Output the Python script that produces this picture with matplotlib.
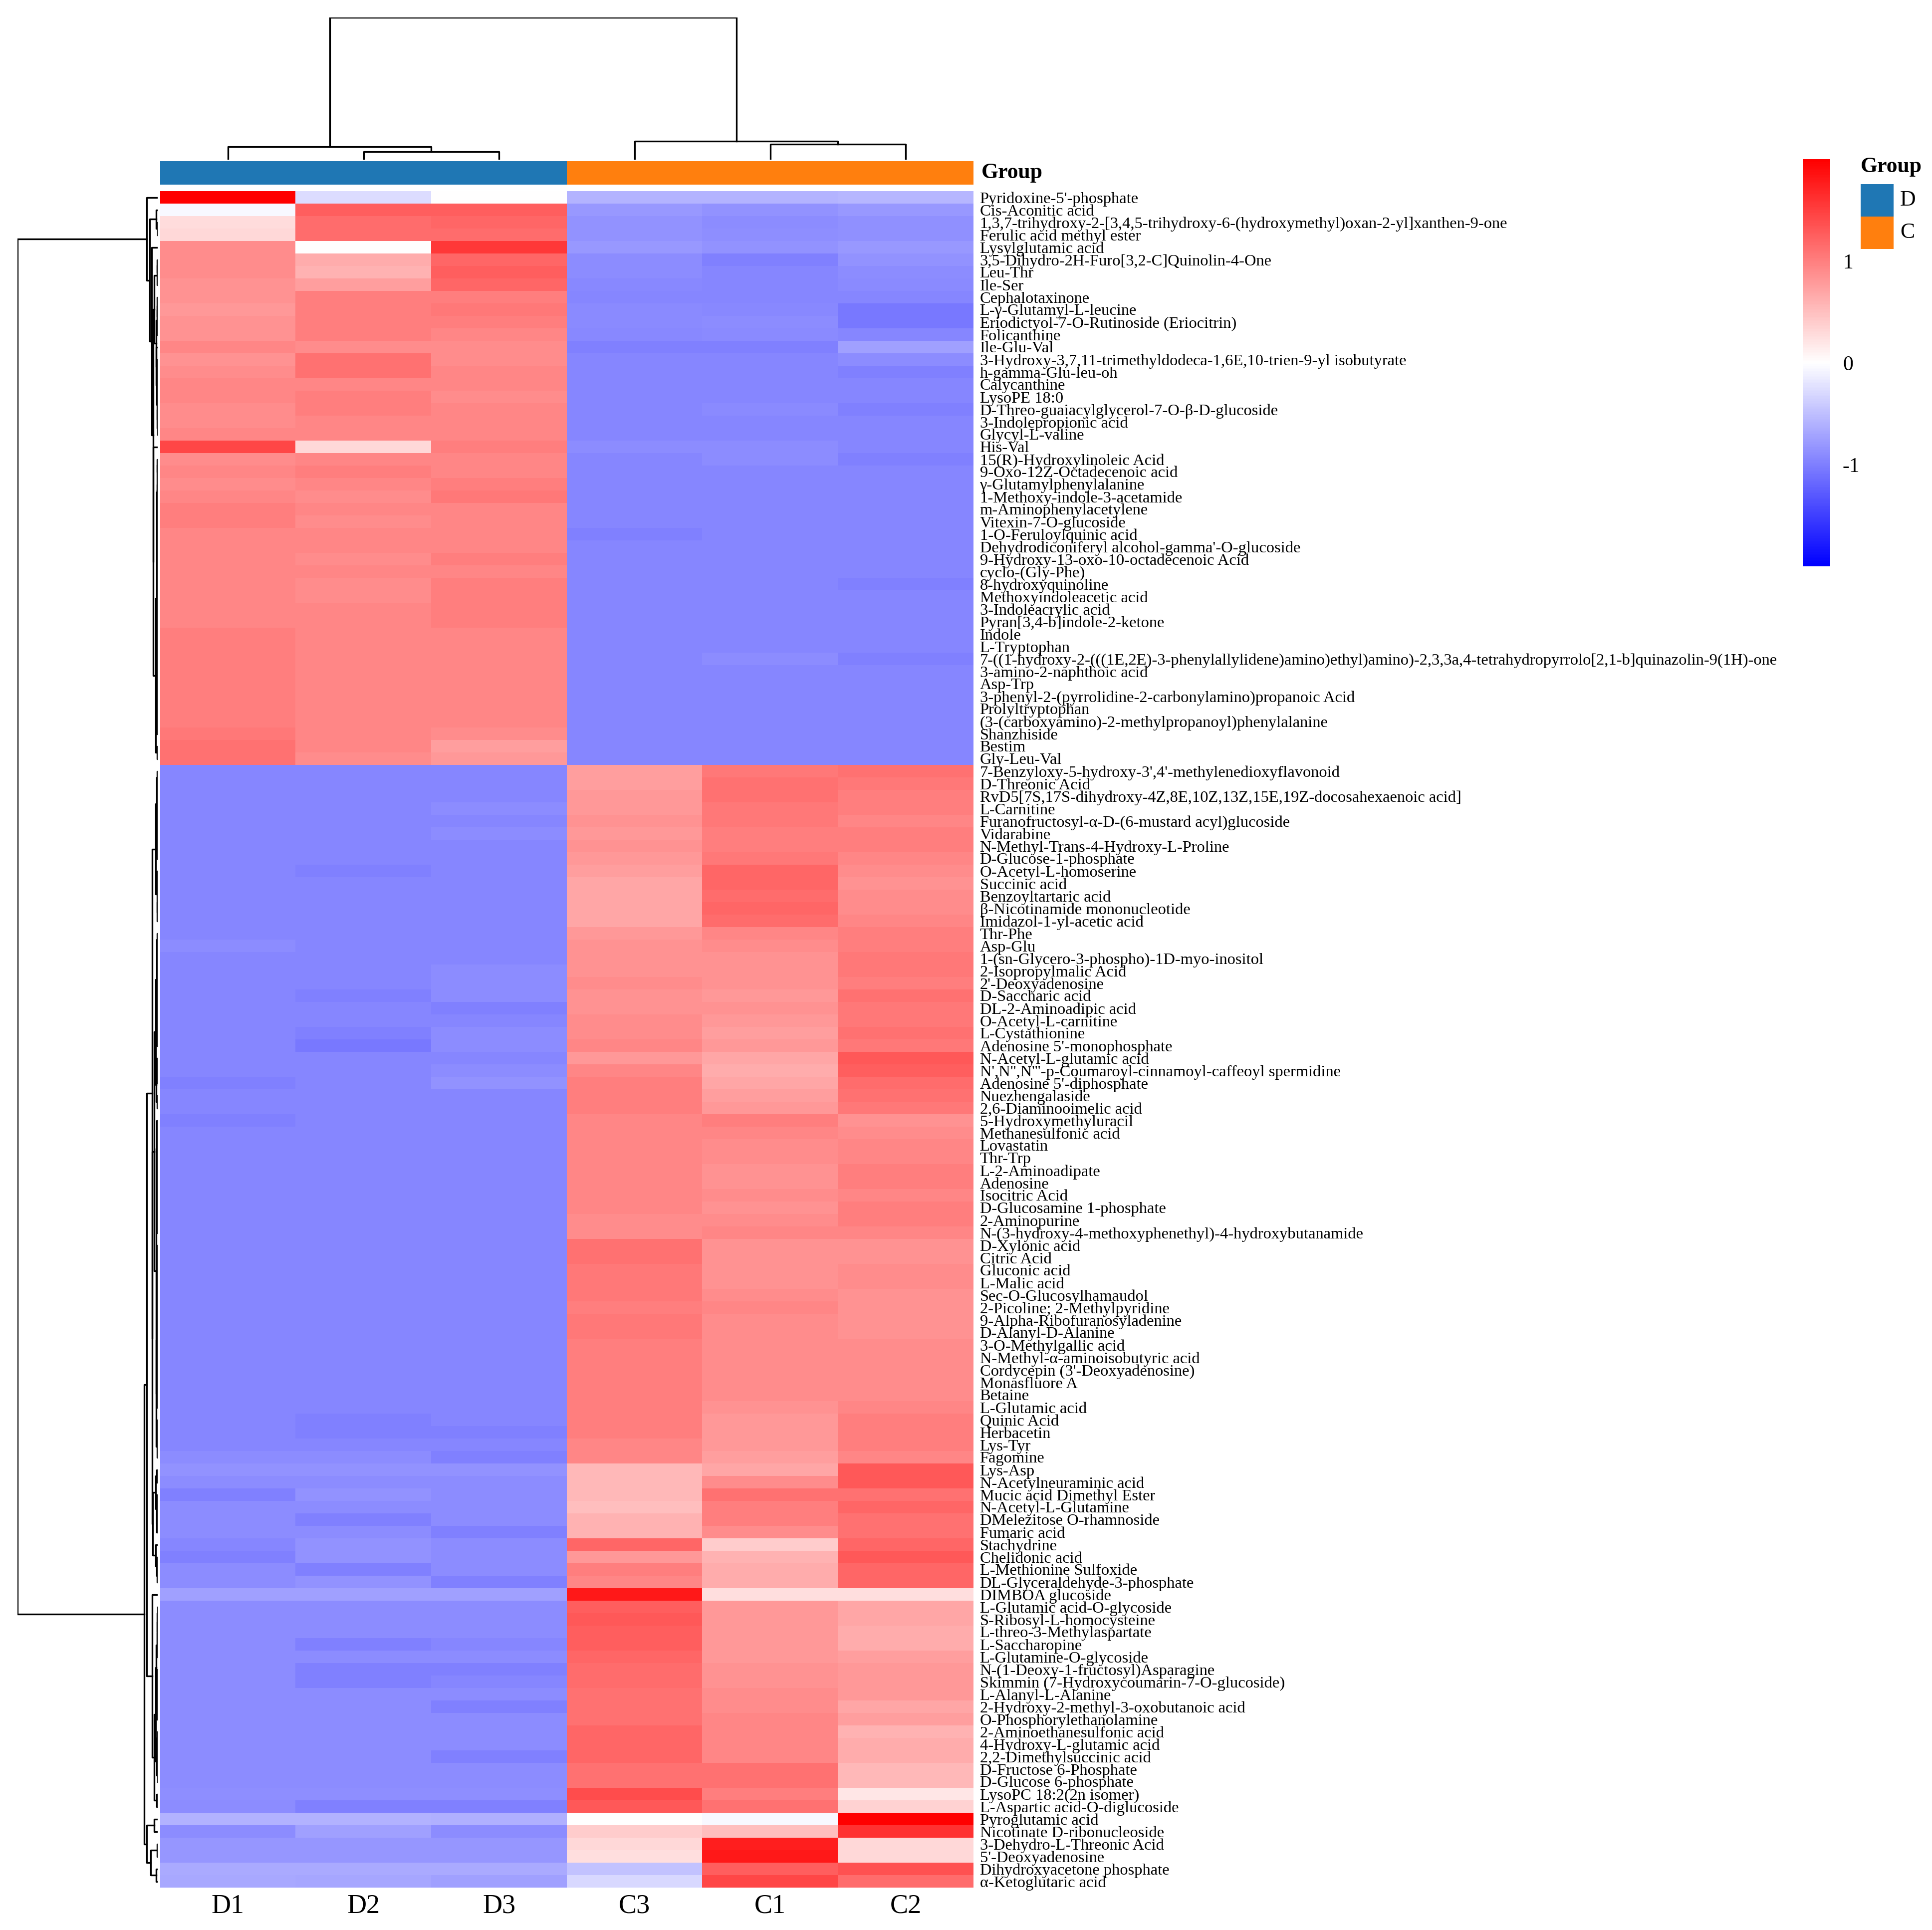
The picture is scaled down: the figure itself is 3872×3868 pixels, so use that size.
import numpy as np
import matplotlib
matplotlib.use("Agg")
import matplotlib.pyplot as plt
from matplotlib.colors import LinearSegmentedColormap
from matplotlib.patches import Rectangle

plt.rcParams['font.family'] = ['Liberation Serif', 'DejaVu Serif']

# ---- data -------------------------------------------------------------
samples = ["D1", "D2", "D3", "C3", "C1", "C2"]
groups = ["D", "D", "D", "C", "C", "C"]
group_colors = {"D": "#1F77B4", "C": "#FF7F0E"}

metabolites = [
    "Pyridoxine-5'-phosphate", "Cis-Aconitic acid",
    "1,3,7-trihydroxy-2-[3,4,5-trihydroxy-6-(hydroxymethyl)oxan-2-yl]xanthen-9-one",
    "Ferulic acid methyl ester", "Lysylglutamic acid",
    "3,5-Dihydro-2H-Furo[3,2-C]Quinolin-4-One", "Leu-Thr", "Ile-Ser",
    "Cephalotaxinone", "L-γ-Glutamyl-L-leucine",
    "Eriodictyol-7-O-Rutinoside (Eriocitrin)", "Folicanthine", "Ile-Glu-Val",
    "3-Hydroxy-3,7,11-trimethyldodeca-1,6E,10-trien-9-yl isobutyrate",
    "h-gamma-Glu-leu-oh", "Calycanthine", "LysoPE 18:0",
    "D-Threo-guaiacylglycerol-7-O-β-D-glucoside", "3-Indolepropionic acid",
    "Glycyl-L-valine", "His-Val", "15(R)-Hydroxylinoleic Acid",
    "9-Oxo-12Z-Octadecenoic acid", "γ-Glutamylphenylalanine",
    "1-Methoxy-indole-3-acetamide", "m-Aminophenylacetylene",
    "Vitexin-7-O-glucoside", "1-O-Feruloylquinic acid",
    "Dehydrodiconiferyl alcohol-gamma'-O-glucoside",
    "9-Hydroxy-13-oxo-10-octadecenoic Acid", "cyclo-(Gly-Phe)",
    "8-hydroxyquinoline", "Methoxyindoleacetic acid", "3-Indoleacrylic acid",
    "Pyran[3,4-b]indole-2-ketone", "Indole", "L-Tryptophan",
    "7-((1-hydroxy-2-(((1E,2E)-3-phenylallylidene)amino)ethyl)amino)-2,3,3a,4-tetrahydropyrrolo[2,1-b]quinazolin-9(1H)-one",
    "3-amino-2-naphthoic acid", "Asp-Trp",
    "3-phenyl-2-(pyrrolidine-2-carbonylamino)propanoic Acid", "Prolyltryptophan",
    "(3-(carboxyamino)-2-methylpropanoyl)phenylalanine", "Shanzhiside", "Bestim",
    "Gly-Leu-Val", "7-Benzyloxy-5-hydroxy-3',4'-methylenedioxyflavonoid",
    "D-Threonic Acid",
    "RvD5[7S,17S-dihydroxy-4Z,8E,10Z,13Z,15E,19Z-docosahexaenoic acid]",
    "L-Carnitine", "Furanofructosyl-α-D-(6-mustard acyl)glucoside", "Vidarabine",
    "N-Methyl-Trans-4-Hydroxy-L-Proline", "D-Glucose-1-phosphate",
    "O-Acetyl-L-homoserine", "Succinic acid", "Benzoyltartaric acid",
    "β-Nicotinamide mononucleotide", "Imidazol-1-yl-acetic acid", "Thr-Phe",
    "Asp-Glu", "1-(sn-Glycero-3-phospho)-1D-myo-inositol", "2-Isopropylmalic Acid",
    "2'-Deoxyadenosine", "D-Saccharic acid", "DL-2-Aminoadipic acid",
    "O-Acetyl-L-carnitine", "L-Cystathionine", "Adenosine 5'-monophosphate",
    "N-Acetyl-L-glutamic acid",
    "N',N'',N'''-p-Coumaroyl-cinnamoyl-caffeoyl spermidine",
    "Adenosine 5'-diphosphate", "Nuezhengalaside", "2,6-Diaminooimelic acid",
    "5-Hydroxymethyluracil", "Methanesulfonic acid", "Lovastatin", "Thr-Trp",
    "L-2-Aminoadipate", "Adenosine", "Isocitric Acid", "D-Glucosamine 1-phosphate",
    "2-Aminopurine", "N-(3-hydroxy-4-methoxyphenethyl)-4-hydroxybutanamide",
    "D-Xylonic acid", "Citric Acid", "Gluconic acid", "L-Malic acid",
    "Sec-O-Glucosylhamaudol", "2-Picoline; 2-Methylpyridine",
    "9-Alpha-Ribofuranosyladenine", "D-Alanyl-D-Alanine", "3-O-Methylgallic acid",
    "N-Methyl-α-aminoisobutyric acid", "Cordycepin (3'-Deoxyadenosine)",
    "Monasfluore A", "Betaine", "L-Glutamic acid", "Quinic Acid", "Herbacetin",
    "Lys-Tyr", "Fagomine", "Lys-Asp", "N-Acetylneuraminic acid",
    "Mucic acid Dimethyl Ester", "N-Acetyl-L-Glutamine", "DMelezitose O-rhamnoside",
    "Fumaric acid", "Stachydrine", "Chelidonic acid", "L-Methionine Sulfoxide",
    "DL-Glyceraldehyde-3-phosphate", "DIMBOA glucoside",
    "L-Glutamic acid-O-glycoside", "S-Ribosyl-L-homocysteine",
    "L-threo-3-Methylaspartate", "L-Saccharopine", "L-Glutamine-O-glycoside",
    "N-(1-Deoxy-1-fructosyl)Asparagine", "Skimmin (7-Hydroxycoumarin-7-O-glucoside)",
    "L-Alanyl-L-Alanine", "2-Hydroxy-2-methyl-3-oxobutanoic acid",
    "O-Phosphorylethanolamine", "2-Aminoethanesulfonic acid",
    "4-Hydroxy-L-glutamic acid", "2,2-Dimethylsuccinic acid",
    "D-Fructose 6-Phosphate", "D-Glucose 6-phosphate", "LysoPC 18:2(2n isomer)",
    "L-Aspartic acid-O-diglucoside", "Pyroglutamic acid",
    "Nicotinate D-ribonucleoside", "3-Dehydro-L-Threonic Acid",
    "5'-Deoxyadenosine", "Dihydroxyacetone phosphate", "α-Ketoglutaric acid",
]

# row z-scores, one list per sample column (same order as metabolites)
d1 = [2.0, -0.05, 0.27, 0.3, 0.9, 0.9, 0.9, 0.85, 0.85, 0.8,
      0.85, 0.85, 0.95, 0.85, 0.9, 0.95, 0.95, 0.9, 0.9, 0.95,
      1.45, 0.9, 0.95, 0.9, 0.95, 1.0, 1.0, 0.95, 0.95, 0.95,
      0.95, 0.95, 0.95, 0.95, 0.95, 1.0, 1.0, 1.0, 1.0, 1.0,
      1.0, 1.0, 1.0, 1.05, 1.1, 1.1, -0.95, -0.95, -0.95, -0.95,
      -0.95, -0.95, -0.95, -0.95, -0.95, -0.95, -0.95, -0.95, -0.95, -0.95,
      -0.9, -0.95, -0.95, -0.95, -0.95, -0.95, -0.95, -0.95, -0.95, -0.95,
      -0.95, -1.0, -0.95, -0.95, -1.0, -0.95, -0.95, -0.95, -0.95, -0.95,
      -0.95, -0.95, -0.95, -0.95, -0.95, -0.95, -0.95, -0.95, -0.95, -0.95,
      -0.95, -0.95, -0.95, -0.95, -0.95, -0.95, -0.95, -0.95, -0.95, -0.95,
      -0.95, -0.9, -0.85, -0.9, -1.0, -0.9, -0.9, -0.9, -0.95, -1.0,
      -0.9, -0.9, -0.75, -0.9, -0.9, -0.9, -0.9, -0.9, -0.9, -0.9,
      -0.9, -0.9, -0.9, -0.9, -0.9, -0.9, -0.9, -0.9, -0.88, -0.9,
      -0.6, -0.9, -0.82, -0.82, -0.67, -0.68]
d2 = [-0.27, 1.25, 1.15, 1.15, 0.0, 0.65, 0.6, 0.75, 1.0, 1.0,
      1.0, 1.0, 0.9, 1.1, 1.1, 0.95, 1.0, 1.0, 0.95, 0.95,
      0.3, 0.95, 1.0, 0.95, 0.9, 0.95, 0.9, 0.95, 0.95, 0.9,
      0.95, 0.9, 0.9, 0.95, 0.95, 0.95, 0.95, 0.95, 0.95, 0.95,
      0.95, 0.95, 0.95, 0.95, 0.95, 0.9, -0.95, -0.95, -0.95, -0.95,
      -0.95, -0.95, -0.95, -0.95, -1.0, -0.95, -0.95, -0.95, -0.95, -0.95,
      -0.95, -0.95, -0.95, -0.95, -1.0, -0.95, -0.95, -1.0, -1.05, -0.95,
      -0.95, -0.95, -0.95, -0.95, -0.95, -0.95, -0.95, -0.95, -0.95, -0.95,
      -0.95, -0.95, -0.95, -0.95, -0.95, -0.95, -0.95, -0.95, -0.95, -0.95,
      -0.95, -0.95, -0.95, -0.95, -0.95, -0.95, -0.95, -0.95, -1.0, -1.0,
      -0.95, -0.9, -0.85, -0.9, -0.85, -0.9, -1.0, -0.9, -0.85, -0.85,
      -1.0, -0.85, -0.75, -0.9, -0.9, -0.9, -1.0, -0.9, -1.0, -1.0,
      -0.9, -0.9, -0.9, -0.9, -0.9, -0.9, -0.9, -0.9, -0.88, -1.0,
      -0.6, -0.75, -0.82, -0.82, -0.67, -0.7]
d3 = [0.0, 1.25, 1.2, 1.15, 1.55, 1.2, 1.25, 1.2, 1.0, 1.05,
      1.0, 0.95, 0.9, 0.9, 0.95, 0.95, 0.9, 0.95, 0.95, 0.95,
      1.0, 0.95, 0.95, 1.0, 1.05, 0.95, 0.95, 0.95, 0.95, 1.0,
      0.95, 1.0, 1.0, 1.0, 1.0, 0.95, 0.95, 0.95, 0.95, 0.95,
      0.95, 0.95, 0.95, 0.9, 0.75, 0.8, -0.95, -0.95, -0.95, -0.9,
      -0.95, -0.9, -0.95, -0.95, -0.95, -0.95, -0.95, -0.95, -0.95, -0.95,
      -0.95, -0.95, -0.9, -0.9, -0.9, -1.0, -0.95, -0.9, -0.9, -0.95,
      -0.9, -0.85, -0.95, -0.95, -0.95, -0.95, -0.95, -0.95, -0.95, -0.95,
      -0.95, -0.95, -0.95, -0.95, -0.95, -0.95, -0.95, -0.95, -0.95, -0.95,
      -0.95, -0.95, -0.95, -0.95, -0.95, -0.95, -0.95, -0.95, -0.95, -1.0,
      -0.95, -1.0, -0.85, -0.9, -0.9, -0.9, -0.9, -1.0, -0.9, -0.9,
      -0.9, -1.0, -0.75, -0.9, -0.9, -0.9, -0.95, -0.9, -1.0, -0.95,
      -0.9, -1.0, -0.9, -0.9, -0.9, -1.0, -0.9, -0.9, -0.88, -1.0,
      -0.62, -0.9, -0.82, -0.82, -0.67, -0.75]
c3 = [-0.58, -0.8, -0.85, -0.85, -0.8, -0.9, -0.9, -0.93, -0.95, -0.92,
      -0.92, -0.93, -1.0, -0.95, -0.95, -0.95, -0.95, -0.95, -0.95, -0.95,
      -0.9, -0.95, -0.95, -0.95, -0.95, -0.95, -0.95, -1.0, -0.95, -0.95,
      -0.95, -0.95, -0.95, -0.95, -0.95, -0.95, -0.95, -0.95, -0.95, -0.95,
      -0.95, -0.95, -0.95, -0.95, -0.95, -0.95, 0.75, 0.75, 0.8, 0.8,
      0.85, 0.8, 0.85, 0.8, 0.75, 0.7, 0.7, 0.7, 0.7, 0.8,
      0.85, 0.85, 0.85, 0.9, 0.85, 0.85, 0.9, 0.9, 0.95, 0.8,
      0.95, 1.0, 1.0, 1.0, 0.95, 0.95, 0.95, 0.95, 0.95, 0.95,
      0.95, 0.95, 0.9, 0.9, 1.1, 1.1, 1.05, 1.05, 1.05, 1.0,
      1.05, 1.05, 1.0, 1.0, 1.0, 1.0, 1.0, 1.0, 1.0, 1.0,
      0.95, 0.95, 0.55, 0.55, 0.55, 0.5, 0.6, 0.6, 1.2, 0.8,
      1.0, 0.95, 1.8, 1.25, 1.3, 1.25, 1.25, 1.2, 1.15, 1.15,
      1.1, 1.1, 1.1, 1.2, 1.2, 1.2, 1.1, 1.1, 1.4, 1.3,
      0.0, 0.4, 0.3, 0.25, -0.47, -0.3]
c1 = [-0.58, -0.85, -0.9, -0.88, -0.85, -1.0, -0.95, -0.95, -0.95, -0.93,
      -0.9, -0.92, -1.0, -0.95, -0.95, -0.95, -0.95, -0.92, -0.95, -0.95,
      -0.9, -0.9, -0.95, -0.95, -0.95, -0.95, -0.95, -0.95, -0.95, -0.95,
      -0.95, -0.95, -0.95, -0.95, -0.95, -0.95, -0.95, -0.9, -0.95, -0.95,
      -0.95, -0.95, -0.95, -0.95, -0.95, -0.95, 1.05, 1.1, 1.1, 1.05,
      1.05, 1.0, 1.0, 1.05, 1.2, 1.2, 1.15, 1.2, 1.15, 0.95,
      0.9, 0.85, 0.85, 0.85, 0.8, 0.85, 0.8, 0.75, 0.8, 0.7,
      0.65, 0.7, 0.75, 0.8, 1.0, 0.95, 0.9, 0.9, 0.85, 0.85,
      0.9, 0.85, 0.9, 0.95, 0.85, 0.85, 0.85, 0.85, 0.9, 0.95,
      0.9, 0.9, 0.9, 0.9, 0.9, 0.9, 0.9, 0.85, 0.8, 0.8,
      0.8, 0.75, 0.7, 0.9, 1.1, 1.0, 1.0, 0.9, 0.4, 0.6,
      0.65, 0.65, 0.25, 0.8, 0.8, 0.8, 0.8, 0.8, 0.85, 0.85,
      0.9, 0.9, 0.95, 0.95, 0.95, 0.95, 1.1, 1.1, 1.0, 1.1,
      -0.05, 0.5, 1.75, 1.8, 1.25, 1.45]
c2 = [-0.57, -0.8, -0.87, -0.87, -0.8, -0.85, -0.9, -0.92, -0.95, -1.05,
      -1.05, -0.95, -0.75, -0.9, -1.0, -0.95, -0.95, -1.0, -0.95, -0.95,
      -0.95, -1.0, -0.95, -0.95, -0.95, -0.95, -0.95, -0.95, -0.95, -0.95,
      -0.95, -1.0, -0.95, -0.95, -0.95, -0.95, -0.95, -1.0, -0.95, -0.95,
      -0.95, -0.95, -0.95, -0.95, -0.95, -0.95, 1.1, 1.05, 1.0, 1.0,
      0.95, 1.0, 1.0, 0.95, 0.9, 0.85, 0.9, 0.9, 0.95, 1.0,
      1.0, 1.05, 1.05, 1.0, 1.1, 1.05, 1.05, 1.1, 1.05, 1.3,
      1.25, 1.15, 1.1, 1.05, 0.85, 0.9, 0.95, 0.95, 1.0, 1.0,
      0.95, 1.0, 1.0, 0.95, 0.85, 0.85, 0.9, 0.9, 0.85, 0.85,
      0.85, 0.85, 0.9, 0.9, 0.9, 0.9, 0.9, 0.95, 1.0, 1.0,
      1.0, 0.95, 1.3, 1.3, 1.1, 1.2, 1.1, 1.1, 1.2, 1.3,
      1.2, 1.2, 0.25, 0.7, 0.7, 0.65, 0.65, 0.75, 0.8, 0.8,
      0.8, 0.7, 0.75, 0.6, 0.65, 0.65, 0.55, 0.55, 0.2, 0.35,
      2.0, 1.6, 0.3, 0.3, 1.35, 1.15]

data = np.column_stack([d1, d2, d3, c3, c1, c2])
n_rows, n_cols = data.shape


def ordered_ward(X):
    # Ward merging where only neighbouring clusters may join (keeps drawn order)
    clusters = [(1, i + 0.5, 0.0, X[i].astype(float)) for i in range(len(X))]
    links = []
    while len(clusters) > 1:
        best, best_d = 0, np.inf
        for k in range(len(clusters) - 1):
            na, _, _, ca = clusters[k]
            nb, _, _, cb = clusters[k + 1]
            d = np.sqrt(2.0 * na * nb / (na + nb)) * np.linalg.norm(ca - cb)
            if d < best_d:
                best, best_d = k, d
        (na, pa, ha, ca), (nb, pb, hb, cb) = clusters[best], clusters[best + 1]
        h = max(best_d, ha, hb)
        links.append((pa, ha, pb, hb, h))
        clusters[best:best + 2] = [(na + nb, (pa + pb) / 2, h,
                                    (na * ca + nb * cb) / (na + nb))]
    return links


row_links = ordered_ward(data)
col_links = ordered_ward(data.T)

# ---- figure -----------------------------------------------------------
W, H = 3872, 3868
fig = plt.figure(figsize=(W / 300, H / 300), dpi=300)


def px_axes(x0, y0, x1, y1):
    return fig.add_axes([x0 / W, 1 - y1 / H, (x1 - x0) / W, (y1 - y0) / H])


cmap = LinearSegmentedColormap.from_list("bwr_ph", ["#0000FF", "#FFFFFF", "#FF0000"])

# heatmap
ax = px_axes(321, 383, 1951, 3783)
ax.imshow(data, cmap=cmap, vmin=-2, vmax=2, aspect="auto", interpolation="nearest",
          extent=(0, n_cols, n_rows, 0))
ax.set_xlim(0, n_cols)
ax.set_ylim(n_rows, 0)
ax.yaxis.tick_right()
ax.set_yticks(np.arange(n_rows) + 0.5)
ax.set_yticklabels(metabolites, fontsize=7.8)
ax.set_xticks(np.arange(n_cols) + 0.5)
ax.set_xticklabels(samples, fontsize=13)
ax.tick_params(length=0, pad=3)
for s in ax.spines.values():
    s.set_visible(False)

# group annotation bar
ax_g = px_axes(321, 323, 1951, 370)
for i, g in enumerate(groups):
    ax_g.add_patch(Rectangle((i, 0), 1, 1, color=group_colors[g], lw=0))
ax_g.set_xlim(0, n_cols)
ax_g.set_ylim(0, 1)
ax_g.axis("off")
ax_g.text(n_cols + 0.06, 0.5, "Group", fontsize=10.5, fontweight="bold",
          va="center", ha="left")

# column dendrogram
ax_cd = px_axes(321, 35, 1951, 320)
for pa, ha, pb, hb, h in col_links:
    ax_cd.plot([pa, pa, pb, pb], [ha, h, h, hb], color="black", lw=0.8)
ax_cd.set_xlim(0, n_cols)
ax_cd.set_ylim(0, max(l[4] for l in col_links))
ax_cd.axis("off")

# row dendrogram
ax_rd = px_axes(35, 383, 316, 3783)
for pa, ha, pb, hb, h in row_links:
    ax_rd.plot([ha, h, h, hb], [pa, pa, pb, pb], color="black", lw=0.8)
ax_rd.set_xlim(max(l[4] for l in row_links), 0)
ax_rd.set_ylim(n_rows, 0)
ax_rd.axis("off")

# colour key
ax_cb = px_axes(3613, 319, 3668, 1135)
ax_cb.imshow(np.linspace(-2, 2, 256)[:, None], cmap=cmap, vmin=-2, vmax=2,
             aspect="auto", origin="lower", extent=(0, 1, -2, 2))
ax_cb.set_xticks([])
ax_cb.yaxis.tick_right()
ax_cb.set_yticks([-1, 0, 1])
ax_cb.set_yticklabels(["-1", "0", "1"], fontsize=10)
ax_cb.tick_params(length=0, pad=6)
for s in ax_cb.spines.values():
    s.set_visible(False)

# group legend
ax_l = px_axes(3729, 300, 3872, 500)
ax_l.set_xlim(3729, 3872)
ax_l.set_ylim(500, 300)
ax_l.axis("off")
ax_l.text(3729, 334, "Group", fontsize=10.5, fontweight="bold", va="center", ha="left")
for k, g in enumerate(["D", "C"]):
    y0 = 369 + k * 65
    ax_l.add_patch(Rectangle((3729, y0), 66, 65, color=group_colors[g], lw=0))
    ax_l.text(3808, y0 + 32, g, fontsize=10.5, va="center", ha="left")

fig.savefig("out.png", dpi=300)
